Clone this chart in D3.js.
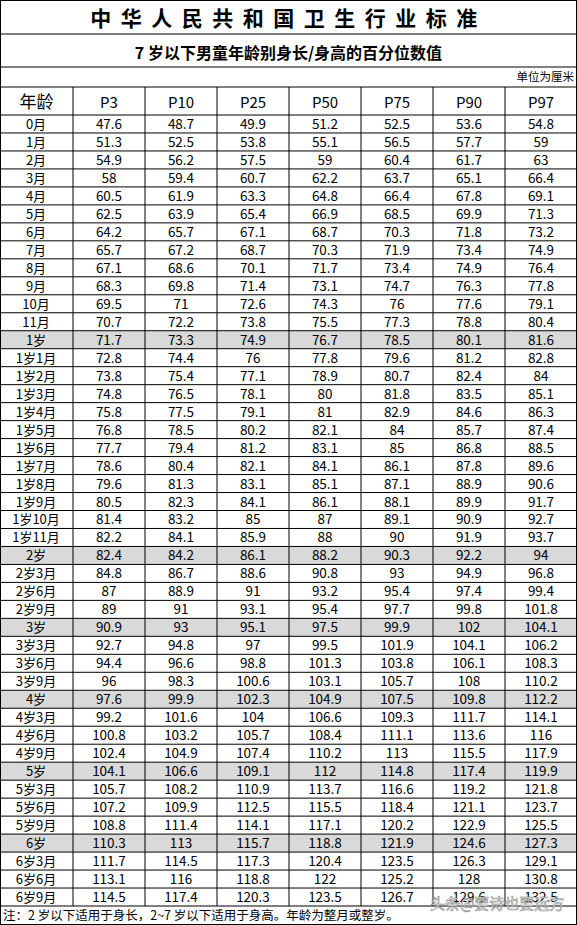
<!DOCTYPE html>
<html>
<head>
<meta charset="utf-8">
<script src="https://cdn.jsdelivr.net/npm/d3@7"></script>
<style>
  body { margin: 0; background: #fff; }
  svg text { font-family: "Noto Sans CJK SC", sans-serif; }
</style>
</head>
<body>
<svg id="chart" width="577" height="925"></svg>
<script>
var headers = ['年龄', 'P3', 'P10', 'P25', 'P50', 'P75', 'P90', 'P97'];
var ages = ['0月','1月','2月','3月','4月','5月','6月','7月','8月','9月','10月','11月',
  '1岁','1岁1月','1岁2月','1岁3月','1岁4月','1岁5月','1岁6月','1岁7月','1岁8月','1岁9月','1岁10月','1岁11月',
  '2岁','2岁3月','2岁6月','2岁9月','3岁','3岁3月','3岁6月','3岁9月','4岁','4岁3月','4岁6月','4岁9月',
  '5岁','5岁3月','5岁6月','5岁9月','6岁','6岁3月','6岁6月','6岁9月'];
var p3  = ['47.6','51.3','54.9','58','60.5','62.5','64.2','65.7','67.1','68.3','69.5','70.7','71.7','72.8','73.8','74.8','75.8','76.8','77.7','78.6','79.6','80.5','81.4','82.2','82.4','84.8','87','89','90.9','92.7','94.4','96','97.6','99.2','100.8','102.4','104.1','105.7','107.2','108.8','110.3','111.7','113.1','114.5'];
var p10 = ['48.7','52.5','56.2','59.4','61.9','63.9','65.7','67.2','68.6','69.8','71','72.2','73.3','74.4','75.4','76.5','77.5','78.5','79.4','80.4','81.3','82.3','83.2','84.1','84.2','86.7','88.9','91','93','94.8','96.6','98.3','99.9','101.6','103.2','104.9','106.6','108.2','109.9','111.4','113','114.5','116','117.4'];
var p25 = ['49.9','53.8','57.5','60.7','63.3','65.4','67.1','68.7','70.1','71.4','72.6','73.8','74.9','76','77.1','78.1','79.1','80.2','81.2','82.1','83.1','84.1','85','85.9','86.1','88.6','91','93.1','95.1','97','98.8','100.6','102.3','104','105.7','107.4','109.1','110.9','112.5','114.1','115.7','117.3','118.8','120.3'];
var p50 = ['51.2','55.1','59','62.2','64.8','66.9','68.7','70.3','71.7','73.1','74.3','75.5','76.7','77.8','78.9','80','81','82.1','83.1','84.1','85.1','86.1','87','88','88.2','90.8','93.2','95.4','97.5','99.5','101.3','103.1','104.9','106.6','108.4','110.2','112','113.7','115.5','117.1','118.8','120.4','122','123.5'];
var p75 = ['52.5','56.5','60.4','63.7','66.4','68.5','70.3','71.9','73.4','74.7','76','77.3','78.5','79.6','80.7','81.8','82.9','84','85','86.1','87.1','88.1','89.1','90','90.3','93','95.4','97.7','99.9','101.9','103.8','105.7','107.5','109.3','111.1','113','114.8','116.6','118.4','120.2','121.9','123.5','125.2','126.7'];
var p90 = ['53.6','57.7','61.7','65.1','67.8','69.9','71.8','73.4','74.9','76.3','77.6','78.8','80.1','81.2','82.4','83.5','84.6','85.7','86.8','87.8','88.9','89.9','90.9','91.9','92.2','94.9','97.4','99.8','102','104.1','106.1','108','109.8','111.7','113.6','115.5','117.4','119.2','121.1','122.9','124.6','126.3','128','129.6'];
var p97 = ['54.8','59','63','66.4','69.1','71.3','73.2','74.9','76.4','77.8','79.1','80.4','81.6','82.8','84','85.1','86.3','87.4','88.5','89.6','90.6','91.7','92.7','93.7','94','96.8','99.4','101.8','104.1','106.2','108.3','110.2','112.2','114.1','116','117.9','119.9','121.8','123.7','125.5','127.3','129.1','130.8','132.5'];
var series = [p3, p10, p25, p50, p75, p90, p97];

var W = 577, rowTop = 115, rowBottom = 906;
var svg = d3.select('#chart');
var colEdges = [0, 73, 145, 217, 289, 361, 433, 505, 577];
var y = d3.scaleBand().domain(d3.range(ages.length)).range([rowTop, rowBottom]);

function hline(yy) { svg.append('line').attr('x1', 0).attr('x2', W).attr('y1', yy).attr('y2', yy).attr('stroke', '#000'); }
svg.append('text').attr('x', W / 2).attr('y', 26).attr('text-anchor', 'middle')
  .attr('font-size', 21).attr('font-weight', 'bold').attr('letter-spacing', 9.5)
  .attr('font-family', '"Noto Serif CJK SC","Noto Sans CJK SC",serif').text('中华人民共和国卫生行业标准');
svg.append('text').attr('x', W / 2).attr('y', 59).attr('text-anchor', 'middle')
  .attr('font-size', 16).attr('font-weight', 'bold').text('7 岁以下男童年龄别身长/身高的百分位数值');
svg.append('text').attr('x', W - 3).attr('y', 81).attr('text-anchor', 'end')
  .attr('font-size', 11.5).text('单位为厘米');

// grey rows for whole years
svg.selectAll('rect.g').data(ages.map(function (a, i) { return i; }).filter(function (i) { return /^\d岁$/.test(ages[i]); }))
  .enter().append('rect').attr('x', 0).attr('width', W).attr('y', function (i) { return y(i); })
  .attr('height', y.bandwidth()).attr('fill', '#d9d9d9');

headers.forEach(function (h, c) {
  svg.append('text').attr('x', (colEdges[c] + colEdges[c + 1]) / 2).attr('y', 108).attr('text-anchor', 'middle')
    .attr('font-size', c === 0 ? 17 : 15).attr('font-family', c === 0 ? '"Noto Sans CJK SC"' : '"Liberation Serif", serif')
    .text(h);
});

ages.forEach(function (a, i) {
  var cy = y(i) + y.bandwidth() / 2 + 5;
  svg.append('text').attr('x', colEdges[0] + 36).attr('y', cy).attr('text-anchor', 'middle')
    .attr('font-size', 13).text(a);
  series.forEach(function (s, c) {
    svg.append('text').attr('x', (colEdges[c + 1] + colEdges[c + 2]) / 2).attr('y', cy).attr('text-anchor', 'middle')
      .attr('font-size', 13.5).attr('font-family', '"Liberation Mono", monospace').text(s[i]);
  });
});

[0.5, 34, 67, 87].forEach(hline);
hline(rowTop);
ages.forEach(function (a, i) { hline(y(i) + y.bandwidth()); });
hline(924.5);
colEdges.forEach(function (x, c) {
  var edge = c === 0 || c === colEdges.length - 1;
  var xx = c === 0 ? 0.5 : (edge ? W - 0.5 : x);
  svg.append('line').attr('x1', xx).attr('x2', xx).attr('y1', edge ? 0 : 87)
    .attr('y2', edge ? 925 : rowBottom).attr('stroke', '#000');
});

svg.append('text').attr('x', 3).attr('y', 920).attr('font-size', 12.5)
  .text('注：2 岁以下适用于身长，2~7 岁以下适用于身高。年龄为整月或整岁。');
svg.append('text').attr('x', 430).attr('y', 909).attr('font-size', 15).attr('fill', '#fff')
  .attr('stroke', '#888').attr('stroke-width', 0.6).text('头条@要诗也要远方');
</script>
</body>
</html>
